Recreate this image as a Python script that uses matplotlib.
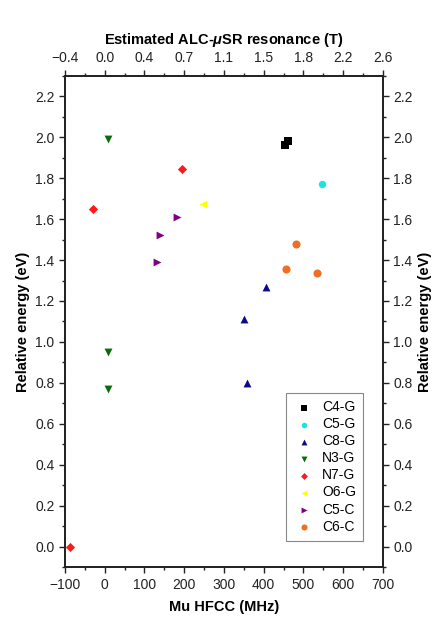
import numpy as np
import matplotlib
matplotlib.use('Agg')
import matplotlib.pyplot as plt
from matplotlib.ticker import MultipleLocator

plt.rcParams['font.family'] = ['Liberation Sans', 'DejaVu Sans']
plt.rcParams['mathtext.fontset'] = 'custom'
plt.rcParams['mathtext.it'] = 'Liberation Sans:italic:bold'
plt.rcParams['mathtext.rm'] = 'Liberation Sans:bold'

# data: (Mu HFCC in MHz, relative energy in eV)
labels = ['C4-G', 'C5-G', 'C8-G', 'N3-G', 'N7-G', 'O6-G', 'C5-C', 'C6-C']
hfcc = {
    'C4-G': [453, 460],
    'C5-G': [546],
    'C8-G': [351, 357, 405],
    'N3-G': [9, 9, 9],
    'N7-G': [-87, -29, 194],
    'O6-G': [248],
    'C5-C': [131, 139, 183],
    'C6-C': [456, 480, 535],
}
energy = {
    'C4-G': [1.96, 1.98],
    'C5-G': [1.77],
    'C8-G': [1.11, 0.80, 1.27],
    'N3-G': [1.99, 0.95, 0.77],
    'N7-G': [0.00, 1.65, 1.845],
    'O6-G': [1.675],
    'C5-C': [1.39, 1.52, 1.61],
    'C6-C': [1.355, 1.48, 1.335],
}
markers = ['s', 'o', '^', 'v', 'D', '<', '>', 'o']
colors = ['black', '#19e3e3', '#0a0a8c', '#0b6b0b', '#ff1a1a', '#ffff00', '#800080', '#ee7022']
sizes = [28, 28, 32, 32, 22, 32, 32, 34]

bottom_ticks = [-100, 0, 100, 200, 300, 400, 500, 600, 700]
top_labels = ['\u22120.4', '0.0', '0.4', '0.7', '1.1', '1.5', '1.8', '2.2', '2.6']

fig = plt.figure(figsize=(4.47, 6.41), dpi=100)
ax = fig.add_axes([0.1454, 0.1151, 0.7114, 0.7668])

for lab, m, c, s in zip(labels, markers, colors, sizes):
    ax.scatter(hfcc[lab], energy[lab], marker=m, color=c, s=s, linewidths=0, label=lab, zorder=3)

ax.set_xlim(-100, 700)
ax.set_ylim(-0.1, 2.3)
ax.set_xticks(bottom_ticks)
ax.xaxis.set_minor_locator(MultipleLocator(50))
ax.yaxis.set_minor_locator(MultipleLocator(0.1))
ax.set_yticks(np.arange(0, 2.21, 0.2))
ax.yaxis.set_major_formatter(matplotlib.ticker.FormatStrFormatter('%.1f'))
ax.xaxis.set_major_formatter(matplotlib.ticker.FuncFormatter(lambda v, p: f'{v:.0f}'.replace('-', '\u2212')))

ax.set_xlabel('Mu HFCC (MHz)', fontsize=10.5, fontweight='bold', labelpad=6)
ax.set_ylabel('Relative energy (eV)', fontsize=10.5, fontweight='bold', labelpad=4)

ax_top = ax.twiny()
ax_top.set_xlim(ax.get_xlim())
ax_top.set_xticks(bottom_ticks)
ax_top.set_xticklabels(top_labels)
ax_top.xaxis.set_minor_locator(MultipleLocator(50))
ax_top.set_xlabel(r'Estimated ALC-$\mu$SR resonance (T)', fontsize=10.5, fontweight='bold', labelpad=5)

ax_right = ax.twinx()
ax_right.set_ylim(ax.get_ylim())
ax_right.set_yticks(np.arange(0, 2.21, 0.2))
ax_right.yaxis.set_minor_locator(MultipleLocator(0.1))
ax_right.yaxis.set_major_formatter(matplotlib.ticker.FormatStrFormatter('%.1f'))
ax_right.set_ylabel('Relative energy (eV)', fontsize=10.5, fontweight='bold', labelpad=4)

for a in (ax, ax_top, ax_right):
    a.tick_params(which='major', direction='out', length=4, width=1, labelsize=10, colors='#222222')
    a.tick_params(which='minor', direction='out', length=2, width=1, colors='#222222')
    for sp in a.spines.values():
        sp.set_linewidth(1.1)
        sp.set_color('#222222')

leg = ax.legend(loc='upper left', bbox_to_anchor=(0.695, 0.354), borderaxespad=0, fontsize=10,
                frameon=True, fancybox=False, edgecolor='#888888', framealpha=1,
                labelspacing=0.22, handletextpad=0.5, borderpad=0.5,
                handlelength=1.6, scatterpoints=1, markerscale=0.75)
leg.get_frame().set_linewidth(0.8)

fig.savefig('out.png', dpi=100)
